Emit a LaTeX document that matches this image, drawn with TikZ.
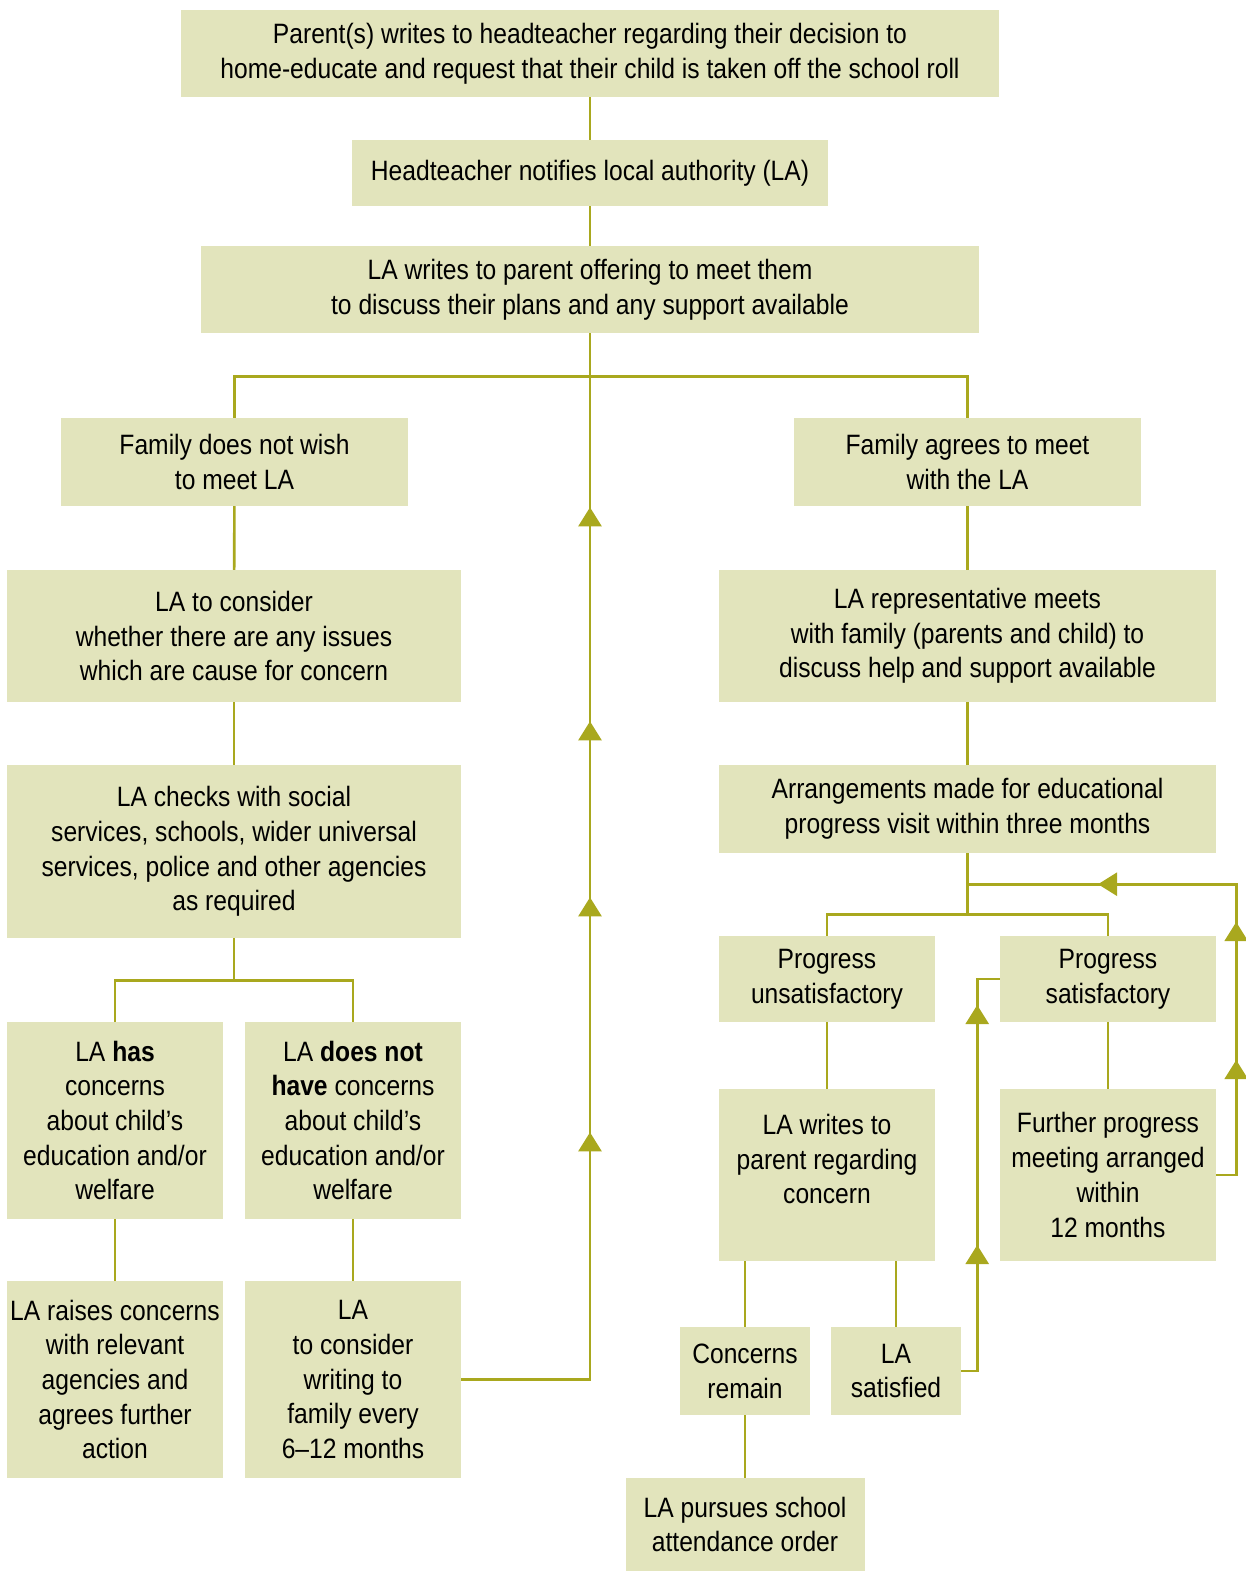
\documentclass[tikz,border=0pt]{standalone}
\usepackage{fontspec}
\setmainfont{Liberation Sans}[FakeStretch=0.88]
\usepackage{tikz}
\usetikzlibrary{arrows.meta,positioning,decorations.markings}
\definecolor{FlowFill}{RGB}{226,228,188}
\definecolor{FlowLine}{RGB}{169,168,30}
\tikzset{
  stepbox/.style={fill=FlowFill, align=center, inner sep=0pt,
                font=\fontsize{28}{34.7}\selectfont},
  link/.style={draw=FlowLine, color=FlowLine, line width=2.6pt},
  flowtip/.tip={Triangle[width=23pt,length=19pt]},
  % arrow heads sit in the middle of the lines, so they are put on as marks
  tips/.style={postaction={decorate}, decoration={markings, #1}},
}

\begin{document}
\begin{tikzpicture}[x=1pt, y=-1pt]
  \useasboundingbox (0,0) rectangle (1246,1571);

  \node[stepbox, minimum width=818pt, minimum height=87pt]  (letter)  at (590, 53.5)  {Parent(s) writes to headteacher regarding their decision to\\home-educate and request that their child is taken off the school roll};
  \node[stepbox, minimum width=476pt, minimum height=66pt]  (notify)  at (590, 173)   {Headteacher notifies local authority (LA)};
  \node[stepbox, minimum width=778pt, minimum height=87pt]  (offer)   at (590, 289.5) {LA writes to parent offering to meet them\\to discuss their plans and any support available};

  \node[stepbox, minimum width=347pt, minimum height=88pt]  (declines) at (234.5, 462) {Family does not wish\\to meet LA};
  \node[stepbox, minimum width=454pt, minimum height=132pt] (consider) at (234, 636)   {LA to consider\\whether there are any issues\\which are cause for concern};
  \node[stepbox, minimum width=454pt, minimum height=173pt] (checks)   at (234, 851.5) {LA checks with social\\services, schools, wider universal\\services, police and other agencies\\as required};

  \node[stepbox, minimum width=216pt, minimum height=197pt] (hasconc)  at (115, 1120.5) {LA \textbf{has}\\concerns\\about child’s\\education and/or\\welfare};
  \node[stepbox, minimum width=216pt, minimum height=197pt] (noconc)   at (353, 1120.5) {LA \textbf{does not}\\\textbf{have} concerns\\about child’s\\education and/or\\welfare};
  \node[stepbox, minimum width=216pt, minimum height=197pt] (raise)    at (115, 1379.5) {LA raises concerns\\with relevant\\agencies and\\agrees further\\action};
  \node[stepbox, minimum width=216pt, minimum height=197pt] (review)   at (353, 1379.5) {LA\\to consider\\writing to\\family every\\6--12 months};

  \node[stepbox, minimum width=347pt, minimum height=88pt]  (agrees)  at (967.5, 462) {Family agrees to meet\\with the LA};
  \node[stepbox, minimum width=497pt, minimum height=132pt] (meeting) at (967.5, 636) {LA representative meets\\with family (parents and child) to\\discuss help and support available};
  \node[stepbox, minimum width=497pt, minimum height=88pt]  (visit)   at (967.5, 809) {Arrangements made for educational\\progress visit within three months};

  \node[stepbox, minimum width=216pt, minimum height=86pt]  (unsat)   at (827, 979)   {Progress\\unsatisfactory};
  \node[stepbox, minimum width=216pt, minimum height=86pt]  (sat)     at (1108, 979)  {Progress\\satisfactory};
  \node[stepbox, minimum width=216pt, minimum height=172pt, text depth=32pt] (warn) at (827, 1175) {LA writes to\\parent regarding\\concern};
  \node[stepbox, minimum width=216pt, minimum height=172pt] (further) at (1108, 1175) {Further progress\\meeting arranged\\within\\12 months};

  \node[stepbox, minimum width=130pt, minimum height=88pt]  (remain)    at (745, 1371)    {Concerns\\remain};
  \node[stepbox, minimum width=130pt, minimum height=88pt]  (satisfied) at (896, 1371)    {LA\\satisfied};
  \node[stepbox, minimum width=239pt, minimum height=93pt]  (order)     at (745, 1524.5)  {LA pursues school\\attendance order};

  \coordinate (split)  at ([yshift=-43pt]offer.south);
  \coordinate (split2) at ([yshift=-42pt]checks.south);
  \coordinate (rejoin) at ([yshift=-31pt]visit.south);
  \coordinate (split3) at ([yshift=-61pt]visit.south);

  \draw[link] (letter) -- (notify);
  \draw[link] (notify) -- (offer);
  \draw[link] (offer.south) -- (split);
  \draw[link] (split) -| (declines.north);
  \draw[link] (split) -| (agrees.north);

  \draw[link] (declines) -- (consider);
  \draw[link] (consider) -- (checks);
  \draw[link] (checks.south) -- (split2) -| (hasconc.north);
  \draw[link] (split2) -| (noconc.north);
  \draw[link] (hasconc) -- (raise);
  \draw[link] (noconc) -- (review);
  \draw[link, tips={mark=at position 376pt with {\arrow{flowtip}},
                    mark=at position 611pt with {\arrow{flowtip}},
                    mark=at position 787pt with {\arrow{flowtip}},
                    mark=at position 1001pt with {\arrow{flowtip}}}]
    (review.east) -| (split);

  \draw[link] (agrees) -- (meeting);
  \draw[link] (meeting) -- (visit);
  \draw[link] (visit.south) -- (split3) -| (unsat.north);
  \draw[link] (split3) -| (sat.north);
  \draw[link] (unsat) -- (warn);
  \draw[link] (sat) -- (further);
  \draw[link] (remain.north) -- (remain.north |- warn.south);
  \draw[link] (satisfied.north) -- (satisfied.north |- warn.south);
  \draw[link] (remain) -- (order);

  \draw[link, tips={mark=at position 142pt with {\arrow{flowtip}},
                    mark=at position 382pt with {\arrow{flowtip}}}]
    (satisfied.east) -- ++(16,0) |- (sat.west);
  \draw[link, tips={mark=at position 135pt with {\arrow{flowtip}},
                    mark=at position 273pt with {\arrow{flowtip}},
                    mark=at position 449pt with {\arrow{flowtip}}}]
    (further.east) -- ++(20,0) |- (rejoin);

\end{tikzpicture}
\end{document}
